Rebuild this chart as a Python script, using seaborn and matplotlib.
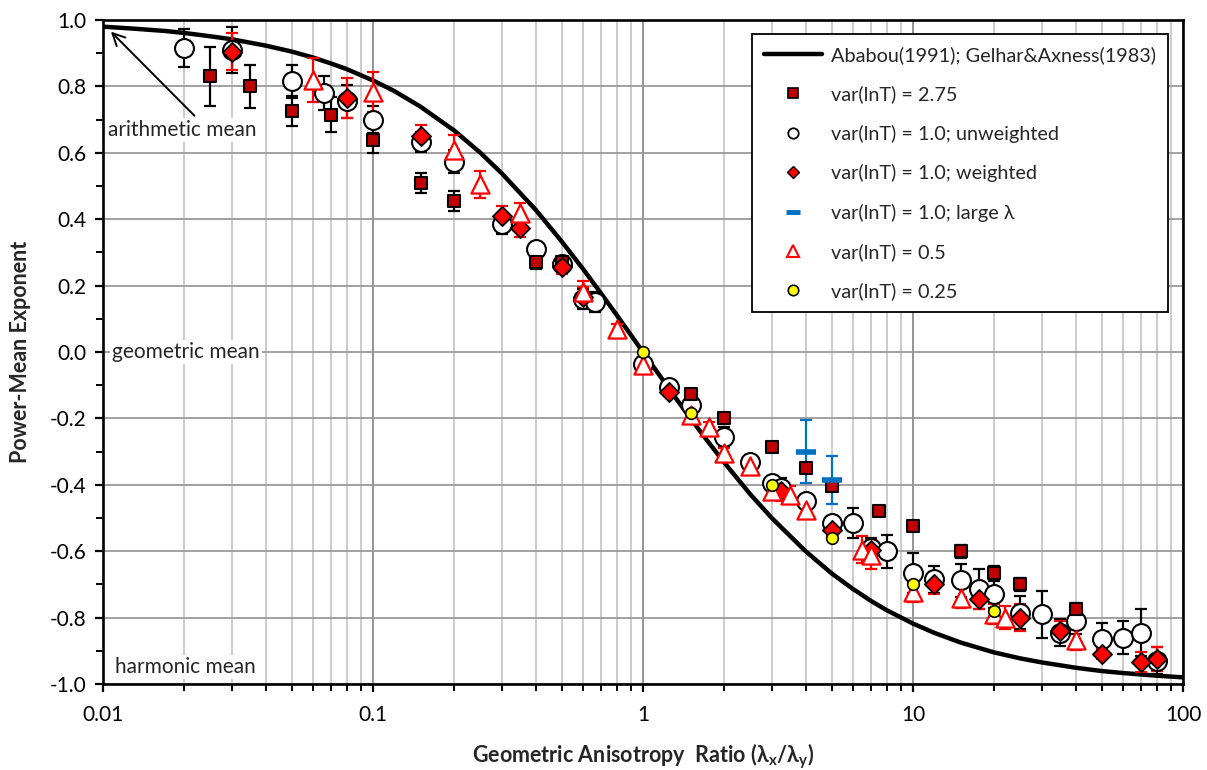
import numpy as np
import pandas as pd
import matplotlib
matplotlib.use("Agg")
import matplotlib.pyplot as plt
from matplotlib.lines import Line2D
from matplotlib.ticker import MultipleLocator, FixedLocator, FixedFormatter, NullFormatter
import seaborn as sns

# ---------------- data ----------------
curve_x = [0.01, 0.013, 0.017, 0.02, 0.025, 0.03, 0.04, 0.05, 0.06, 0.07, 0.08, 0.1, 0.12,
           0.15, 0.2, 0.25, 0.3, 0.4, 0.5, 0.6, 0.7, 0.8, 1.0, 1.25, 1.5, 1.7, 2, 2.5, 3, 4,
           5, 6, 7, 8, 10, 12, 15, 20, 25, 30, 40, 50, 60, 80, 100]
curve_y = [0.980, 0.974, 0.967, 0.961, 0.951, 0.942, 0.923, 0.905, 0.887, 0.869, 0.852, 0.818,
           0.786, 0.739, 0.667, 0.600, 0.538, 0.429, 0.333, 0.250, 0.176, 0.111, 0.0, -0.111,
           -0.200, -0.259, -0.333, -0.429, -0.500, -0.600, -0.667, -0.714, -0.750, -0.778,
           -0.818, -0.846, -0.875, -0.905, -0.923, -0.935, -0.951, -0.961, -0.967, -0.975, -0.980]

sq_x = [0.025, 0.035, 0.05, 0.07, 0.1, 0.15, 0.2, 0.4, 0.5, 1.5, 2, 3, 4, 5, 7.5, 10, 15, 20, 25, 40]
sq_y = [0.83, 0.80, 0.725, 0.715, 0.64, 0.51, 0.455, 0.27, 0.27, -0.125, -0.20, -0.285, -0.35,
        -0.405, -0.48, -0.525, -0.60, -0.665, -0.70, -0.775]
sq_e = [0.09, 0.065, 0.045, 0.053, 0.04, 0.03, 0.03, 0.02, 0.02, 0.015, 0.015, 0.012, 0.012,
        0.015, 0.015, 0.015, 0.02, 0.02, 0.02, 0.02]

ci_x = [0.02, 0.03, 0.05, 0.066, 0.08, 0.1, 0.15, 0.2, 0.3, 0.4, 0.5, 0.6, 0.667, 1.0, 1.25, 1.5,
        2, 2.5, 3, 3.25, 4, 5, 6, 7, 8, 10, 12, 15, 17.5, 20, 25, 30, 35, 40, 50, 60, 70, 80]
ci_y = [0.915, 0.91, 0.815, 0.78, 0.755, 0.70, 0.633, 0.573, 0.385, 0.31, 0.265, 0.16, 0.15,
        -0.035, -0.104, -0.16, -0.255, -0.33, -0.395, -0.41, -0.45, -0.515, -0.515, -0.59,
        -0.60, -0.665, -0.685, -0.688, -0.715, -0.73, -0.785, -0.79, -0.845, -0.81, -0.865,
        -0.86, -0.845, -0.93]
ci_e = [0.058, 0.07, 0.05, 0.05, 0.05, 0.04, 0.03, 0.035, 0.03, 0.02, 0.02, 0.03, 0.03, 0.015,
        0.015, 0.015, 0.03, 0.02, 0.02, 0.03, 0.02, 0.02, 0.045, 0.03, 0.05, 0.06, 0.04, 0.05,
        0.06, 0.04, 0.05, 0.07, 0.04, 0.04, 0.05, 0.05, 0.07, 0.04]

di_x = [0.03, 0.08, 0.15, 0.3, 0.35, 0.5, 0.6, 1.25, 3.25, 5, 7, 12, 17.5, 25, 35, 50, 70, 80]
di_y = [0.905, 0.765, 0.65, 0.41, 0.375, 0.255, 0.165, -0.12, -0.42, -0.535, -0.595, -0.70,
        -0.745, -0.80, -0.84, -0.91, -0.935, -0.925]
di_e = [0.055, 0.06, 0.035, 0.03, 0.03, 0.02, 0.03, 0.01, 0.03, 0.015, 0.03, 0.03, 0.03, 0.04,
        0.03, 0.015, 0.03, 0.035]

bl_x = [4, 5]
bl_y = [-0.30, -0.385]
bl_e = [0.095, 0.072]

tr_x = [0.06, 0.1, 0.2, 0.25, 0.35, 0.6, 0.8, 1.0, 1.5, 1.75, 2, 2.5, 3, 3.5, 4, 6.5, 7, 10,
        15, 20, 22, 40]
tr_y = [0.82, 0.782, 0.608, 0.505, 0.418, 0.18, 0.07, -0.04, -0.19, -0.225, -0.303, -0.343,
        -0.42, -0.43, -0.476, -0.595, -0.61, -0.722, -0.742, -0.79, -0.80, -0.867]
tr_e = [0.066, 0.06, 0.045, 0.04, 0.03, 0.035, 0.015, 0.012, 0.012, 0.015, 0.015, 0.012, 0.02,
        0.025, 0.012, 0.04, 0.045, 0.03, 0.03, 0.03, 0.035, 0.03]

ye_x = [1, 1.5, 3, 5, 10, 20]
ye_y = [0.0, -0.185, -0.40, -0.56, -0.70, -0.78]

x_ticks = [0.01, 0.1, 1, 10, 100]
x_tick_labels = ["0.01", "0.1", "1", "10", "100"]

labels = ["Ababou(1991); Gelhar&Axness(1983)", "var(lnT) = 2.75", "var(lnT) = 1.0; unweighted",
          "var(lnT) = 1.0; weighted", "var(lnT) = 1.0; large λ", "var(lnT) = 0.5",
          "var(lnT) = 0.25"]

# ---------------- styling ----------------
sns.set_theme(style="white")
FONT = ["Lato", "DejaVu Sans"]
plt.rcParams["font.family"] = FONT
plt.rcParams["mathtext.fontset"] = "custom"
plt.rcParams["mathtext.rm"] = "Lato"
plt.rcParams["mathtext.bf"] = "Lato:bold"

DRED = "#C00000"
RED = "#FF0000"
BLUE = "#0070C0"
YEL = "#FFFF00"

fig = plt.figure(figsize=(12.07, 7.70), dpi=100)
ax = fig.add_axes([0.0853, 0.1117, 0.8948, 0.8623])

ax.set_xscale("log")
ax.set_xlim(0.01, 100)
ax.set_ylim(-1.0, 1.0)

# grid
ax.set_axisbelow(True)
ax.grid(which="major", axis="x", color="#8c8c8c", lw=1.3)
ax.grid(which="minor", axis="x", color="#c8c8c8", lw=1.3)
ax.grid(which="major", axis="y", color="#9a9a9a", lw=1.3)

# theoretical curve
cdf = pd.DataFrame({"x": curve_x, "y": curve_y})
sns.lineplot(data=cdf, x="x", y="y", ax=ax, color="black", lw=3.2, sort=False, zorder=3)

EB = dict(fmt="none", capsize=4.3, elinewidth=1.6, capthick=1.6, zorder=4)

ax.errorbar(ci_x, ci_y, yerr=ci_e, ecolor="black", **EB)
ax.errorbar(sq_x, sq_y, yerr=sq_e, ecolor="black", **EB)
ax.errorbar(di_x, di_y, yerr=di_e, ecolor=RED, **EB)
ax.errorbar(tr_x, tr_y, yerr=tr_e, ecolor=RED, **EB)
ax.errorbar(bl_x, bl_y, yerr=bl_e, ecolor=BLUE, **EB)

sns.scatterplot(x=ci_x, y=ci_y, ax=ax, marker="o", s=185, facecolor="white",
                edgecolor="black", linewidth=1.5, zorder=5)
sns.scatterplot(x=sq_x, y=sq_y, ax=ax, marker="s", s=85, facecolor=DRED,
                edgecolor="black", linewidth=1.5, zorder=6)
sns.scatterplot(x=di_x, y=di_y, ax=ax, marker="D", s=95, facecolor=RED,
                edgecolor="black", linewidth=1.3, zorder=7)
sns.scatterplot(x=tr_x, y=tr_y, ax=ax, marker="^", s=170, facecolor="white",
                edgecolor=RED, linewidth=1.6, zorder=8)
sns.scatterplot(x=ye_x, y=ye_y, ax=ax, marker="o", s=70, facecolor=YEL,
                edgecolor="black", linewidth=1.2, zorder=9)
sns.scatterplot(x=bl_x, y=bl_y, ax=ax, marker="_", s=220, color=BLUE,
                linewidth=4, zorder=9)

# ticks
ax.xaxis.set_major_locator(FixedLocator(x_ticks))
ax.xaxis.set_major_formatter(FixedFormatter(x_tick_labels))
minors = [m * 10.0 ** d for d in range(-2, 2) for m in range(2, 10)]
ax.xaxis.set_minor_locator(FixedLocator(minors))
ax.xaxis.set_minor_formatter(NullFormatter())
ax.yaxis.set_major_locator(MultipleLocator(0.2))
ax.yaxis.set_minor_locator(MultipleLocator(0.1))
ax.yaxis.set_major_formatter(plt.FuncFormatter(lambda v, p: f"{v:.1f}".replace("-0.0", "0.0")))

ax.tick_params(axis="both", which="major", direction="out", length=6, width=1.6,
               labelsize=15, colors="black", pad=9, bottom=True, left=True)
ax.tick_params(axis="both", which="minor", direction="out", length=5, width=1.4,
               colors="black", bottom=True, left=True)
ax.tick_params(axis="y", which="major", pad=6)

for s in ax.spines.values():
    s.set_color("black")
    s.set_linewidth(1.9)

ax.set_xlabel(r"Geometric Anisotropy  Ratio (λ$_\mathbf{x}$/λ$_\mathbf{y}$)",
              fontsize=15.5, fontweight="bold", labelpad=12)
ax.set_ylabel("Power-Mean Exponent", fontsize=15.5, fontweight="bold", labelpad=13)

# annotations
tb = dict(facecolor="white", edgecolor="none", pad=1.5)
ax.text(0.0104, 0.669, "arithmetic mean", fontsize=15, va="center", ha="left",
        bbox=tb, zorder=10)
ax.text(0.0108, 0.0, "geometric mean", fontsize=15, va="center", ha="left",
        bbox=tb, zorder=10)
ax.text(0.0111, -0.95, "harmonic mean", fontsize=15, va="center", ha="left",
        bbox=tb, zorder=10)
ax.annotate("", xy=(0.0107, 0.965), xytext=(0.0218, 0.712),
            arrowprops=dict(arrowstyle="->", color="black", lw=1.4,
                            mutation_scale=22, shrinkA=0, shrinkB=0), zorder=10)

# legend
handles = [
    Line2D([], [], color="black", lw=3.2),
    Line2D([], [], marker="s", ls="none", mfc=DRED, mec="black", ms=7.5, mew=1.2),
    Line2D([], [], marker="o", ls="none", mfc="white", mec="black", ms=7.5, mew=1.3),
    Line2D([], [], marker="D", ls="none", mfc=RED, mec="black", ms=6.5, mew=1.0),
    Line2D([], [], marker="_", ls="none", color=BLUE, ms=10, mew=3.5),
    Line2D([], [], marker="^", ls="none", mfc="white", mec=RED, ms=8.5, mew=1.5),
    Line2D([], [], marker="o", ls="none", mfc=YEL, mec="black", ms=7.5, mew=1.2),
]
leg = ax.legend(handles, labels, loc="upper right", bbox_to_anchor=(0.986, 0.979),
                fontsize=14.3, frameon=True, fancybox=False, framealpha=1,
                edgecolor="black", borderpad=0.6, labelspacing=1.08,
                handlelength=2.9, handletextpad=0.45, borderaxespad=0)
leg.get_frame().set_linewidth(1.3)
leg.set_zorder(20)

fig.savefig("out.png", dpi=100)
